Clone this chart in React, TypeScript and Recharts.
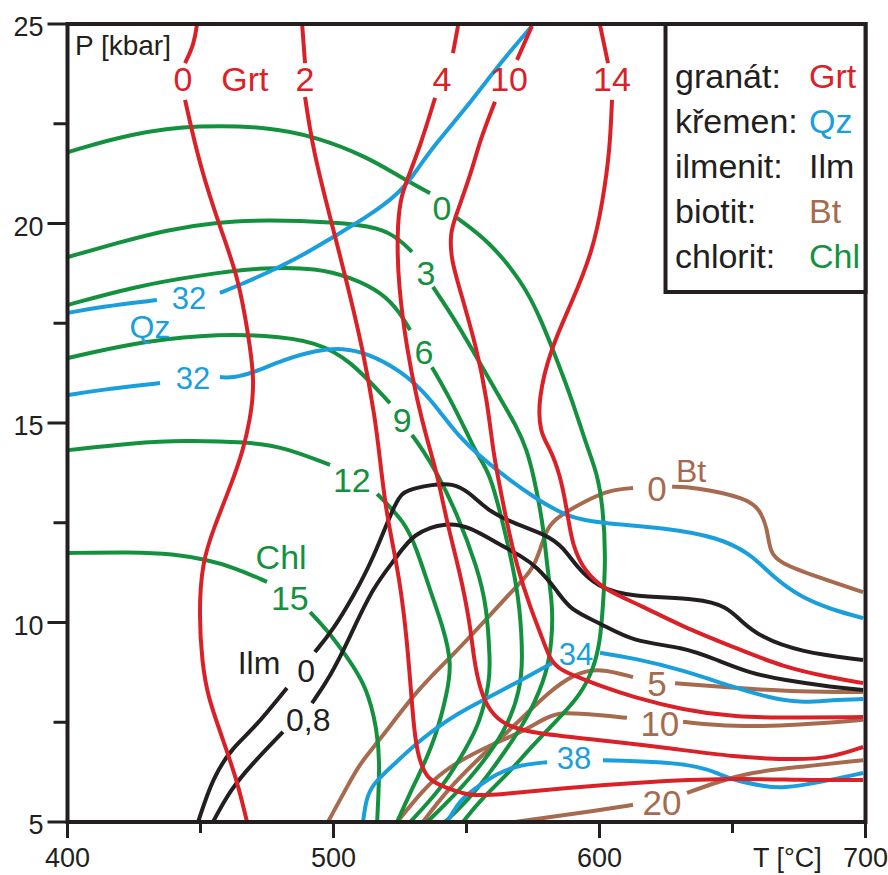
import React from 'react';
import { ComposedChart, Line, XAxis, YAxis, ReferenceDot } from 'recharts';

type Pt = [number, number] | null;
type Lab = [number, number, string];

const INK = '#231f20';
const RED = '#da2128';
const BLUE = '#1a9fdc';
const GREEN = '#14913f';
const BROWN = '#a66a4e';
const FONT = '"Liberation Sans", Arial, Helvetica, sans-serif';

const tempTicks = [400, 450, 500, 550, 600, 650, 700];
const pressTicks = [5, 7.5, 10, 12.5, 15, 17.5, 20, 22.5, 25];

// granát (Grt) – T [°C], P [kbar]; null = gap for the label
const grt0: Pt[] = [
  [448.7, 25], [447.6, 24.5], [444.2, 24.02], null,
  [444.2, 23.1], [449.8, 21.42], [458.1, 19.76], [464.1, 18.66], [467.9, 17.26], [470.5, 16.0],
  [468.6, 15.07], [466.0, 14.32], [462.2, 13.57], [454.7, 12.32], [450.6, 11.49], [449.4, 10.24],
  [450.6, 8.98], [452.8, 8.13], [458.1, 7.13], [463.7, 6.05], [467.5, 5.0],
];
const grt2: Pt[] = [
  [488.2, 25], [489.3, 24.02], null,
  [489.3, 23.17], [492.3, 21.84], [498.7, 20.16], [505.1, 18.51], [511.1, 16.83], [515.6, 15.15],
  [517.5, 14.07], [519.7, 12.82], [522.7, 11.82], [525.4, 10.81], [527.6, 9.56], [529.1, 8.31],
  [530.3, 7.31], [531.8, 6.63], [535.2, 6.05], [542.7, 5.85], [551.3, 5.65], [561.5, 5.68],
  [586.3, 5.85], [615.2, 6.0], [650.2, 6.1], [675.4, 6.05], [699.1, 6.05],
];
const grt4: Pt[] = [
  [546.8, 24.95], [544.9, 24.27], null,
  [538.2, 23.15], [532.5, 21.92], [527.6, 21.09], [525.0, 20.59], [523.9, 19.76], [524.3, 18.51],
  [527.6, 16.83], [531.4, 15.58], [535.2, 14.57], [538.9, 13.75], [542.7, 12.49], [547.6, 11.24],
  [551.3, 9.99], [552.8, 9.06], [555.1, 8.31], [558.8, 7.76], [564.5, 7.43], [573.9, 7.23],
  [599.1, 7.06], [625.4, 6.86], [650.2, 6.63], [675.4, 6.55], [687.8, 6.63], [699.1, 6.88],
];
const grt10: Pt[] = [
  [574.6, 24.95], [569.0, 24.1], null,
  [560.7, 23.05], [555.1, 22.09], [552.1, 21.34], [546.4, 20.26], [543.8, 19.79], [544.2, 19.09],
  [547.6, 18.33], [554.0, 16.83], [557.7, 15.58], [560.0, 14.32], [561.5, 13.75], [565.2, 12.49],
  [569.0, 11.39], [573.9, 10.39], [578.8, 9.56], [581.4, 9.06], [585.2, 8.81], [592.7, 8.61],
  [600.2, 8.41], [612.6, 8.13], [631.4, 7.81], [650.2, 7.63], [675.4, 7.61], [699.1, 7.63],
];
const grt14: Pt[] = [
  [600.2, 24.97], [603.2, 24.02], null,
  [604.7, 23.1], [603.9, 21.84], [601.3, 20.59], [597.6, 19.34], [590.0, 18.08], [581.4, 16.83],
  [576.9, 15.58], [577.6, 14.75], [581.4, 14.37], [585.2, 13.7], [587.8, 12.82], [589.7, 11.94],
  [594.5, 11.27], [602.1, 10.81], [615.2, 10.44], [631.4, 9.89], [650.2, 9.39], [669.0, 8.88],
  [687.8, 8.61], [699.1, 8.48],
];

// křemen (Qz)
const qz32a: Pt[] = [
  [400.2, 17.76], [412.2, 17.91], [433.6, 18.08], null,
  [457.3, 18.26], [464.8, 18.46], [475.0, 18.76], [487.4, 19.16], [499.8, 19.66], [512.6, 20.16],
  [525.0, 20.76], [531.4, 21.34], [537.4, 21.92], [550.2, 22.92], [562.6, 24.02], [574.6, 24.95],
];
const qz32b: Pt[] = [
  [400.2, 15.7], [412.2, 15.83], [434.8, 16.0], null,
  [457.3, 16.15], [462.2, 16.13], [469.7, 16.25], [481.0, 16.58], [493.8, 16.83], [503.6, 16.88],
  [512.6, 16.75], [525.0, 16.33], [536.3, 15.65], [547.6, 14.57], [562.6, 13.75], [575.0, 13.15],
  [587.8, 12.64], [600.2, 12.49], [625.4, 12.37], [644.2, 12.14], [656.6, 11.74], [665.2, 11.14],
  [675.4, 10.64], [687.8, 10.31], [699.1, 10.11],
];
const qz34: Pt[] = [
  [511.1, 5.0], [512.2, 5.55], [514.5, 5.93], [521.2, 6.35], [532.5, 7.06], [546.4, 7.73],
  [561.5, 8.23], [573.9, 8.68], [582.1, 8.98], null,
  [600.2, 9.24], [612.6, 9.11], [631.4, 8.81], [650.2, 8.38], [663.0, 8.13], [675.4, 7.98],
  [687.8, 8.06], [699.1, 8.08],
];
const qz38: Pt[] = [
  [542.7, 5.0], [547.6, 5.55], [552.4, 5.8], [561.5, 6.23], [570.1, 6.43], [580.3, 6.5], null,
  [601.3, 6.55], [625.4, 6.5], [637.8, 6.38], [644.2, 6.23], [650.2, 6.05], [663.0, 5.88],
  [669.0, 5.85], [681.8, 5.98], [699.1, 6.23],
];

// ilmenit (Ilm)
const ilm0: Pt[] = [
  [449.1, 5.0], [454.7, 6.13], [462.2, 6.88], [469.7, 7.31], [482.5, 8.36], null,
  [493.0, 9.26], [499.8, 9.81], [507.3, 10.64], [514.8, 11.57], [523.9, 13.15], [527.6, 13.32],
  [536.3, 13.45], [544.9, 13.5], [551.3, 13.25], [557.7, 12.82], [567.5, 12.49], [580.3, 12.19],
  [586.3, 11.89], [591.5, 11.39], [599.1, 10.89], [611.5, 10.64], [637.8, 10.61], [648.0, 10.39],
  [652.8, 10.06], [660.3, 9.64], [675.4, 9.26], [699.1, 9.06],
];
const ilm08: Pt[] = [
  [454.7, 5.0], [461.1, 5.8], [469.7, 6.48], [481.0, 7.26], null,
  [491.9, 7.98], [498.7, 8.63], [506.2, 9.64], [514.8, 10.89], [523.9, 11.64], [529.9, 12.24],
  [542.7, 12.52], [551.3, 12.39], [561.5, 11.99], [571.2, 11.64], [576.5, 11.39], [584.0, 10.81],
  [588.9, 10.31], [600.2, 9.99], [612.6, 9.51], [631.4, 9.39], [644.2, 9.06], [656.6, 8.73],
  [669.0, 8.56], [687.8, 8.38], [699.1, 8.31],
];

// biotit (Bt)
const bt0: Pt[] = [
  [497.9, 5.0], [505.1, 5.88], [510.0, 6.48], [517.5, 7.06], [531.4, 8.31], [543.8, 9.11],
  [556.2, 9.99], [566.4, 10.74], [575.0, 11.32], [577.6, 11.82], [580.3, 12.37], [584.0, 12.64],
  [595.3, 13.07], [603.9, 13.32], [612.6, 13.37], null,
  [627.3, 13.4], [635.2, 13.4], [655.5, 13.12], [660.3, 12.82], [663.0, 12.39], [664.1, 11.74],
  [667.9, 11.49], [681.8, 11.14], [699.1, 10.76],
];
const bt5: Pt[] = [
  [533.6, 5.0], [542.7, 5.8], [555.1, 6.63], [567.5, 7.38], [580.3, 8.23], [590.8, 8.73],
  [600.2, 8.86], [612.6, 8.63], null,
  [628.4, 8.48], [650.2, 8.36], [675.4, 8.26], [699.1, 8.26],
];
const bt10: Pt[] = [
  [523.9, 5.0], [533.6, 5.8], [542.7, 6.38], [561.5, 7.01], [570.1, 7.23], [580.3, 7.63],
  [585.2, 7.76], [600.2, 7.68], [610.3, 7.61], null,
  [631.4, 7.51], [650.2, 7.38], [675.4, 7.43], [699.1, 7.56],
];
const bt20: Pt[] = [
  [568.2, 5.0], [600.2, 5.3], [612.6, 5.43], null,
  [632.9, 5.73], [644.2, 6.0], [656.6, 6.25], [675.4, 6.38], [699.1, 6.55],
];

// chlorit (Chl)
const chl0: Pt[] = [
  [400.2, 21.79], [424.6, 22.27], [449.8, 22.47], [475.0, 22.42], [493.8, 22.17], [512.6, 21.67],
  [525.0, 21.17], [536.3, 20.76], null,
  [546.4, 20.14], [558.8, 19.54], [571.2, 18.51], [577.6, 17.66], [584.0, 16.58], [589.7, 15.58],
  [595.3, 14.4], [599.1, 13.75], [601.3, 12.89], [602.4, 11.64], [601.3, 10.39], [600.2, 9.49],
  [597.6, 8.81], [592.7, 8.18], [585.2, 7.63], [573.9, 6.85], [565.2, 6.18], [555.1, 5.55],
  [548.7, 5.0],
];
const chl3: Pt[] = [
  [400.2, 19.16], [418.6, 19.51], [437.4, 19.84], [456.2, 20.04], [475.0, 20.09], [499.8, 20.04],
  [517.5, 19.91], [525.0, 19.59], [529.5, 19.29], null,
  [537.4, 18.41], [546.4, 17.51], [555.1, 16.5], [561.5, 15.75], [569.0, 14.9], [572.7, 14.32],
  [575.0, 13.75], [578.8, 12.49], [580.3, 11.39], [582.5, 10.39], [582.1, 9.56], [580.3, 8.73],
  [573.9, 7.73], [567.5, 7.06], [558.8, 6.23], [550.6, 5.55], [541.9, 5.0],
];
const chl6: Pt[] = [
  [400.2, 17.96], [424.6, 18.41], [449.8, 18.71], [475.0, 18.91], [493.8, 18.88], [506.2, 18.66],
  [518.6, 18.26], [525.0, 17.76], [528.8, 17.33], null,
  [537.0, 16.4], [542.7, 15.75], [550.2, 14.75], [554.0, 14.2], [558.8, 13.75], [563.7, 12.49],
  [567.5, 11.39], [570.1, 10.39], [571.2, 9.06], [570.1, 8.31], [565.2, 7.31], [551.3, 6.05],
  [535.2, 5.0],
];
const chl9: Pt[] = [
  [400.2, 16.63], [424.6, 17.0], [449.8, 17.21], [475.0, 17.21], [493.8, 17.03], [506.2, 16.58],
  [521.2, 15.5], null,
  [529.5, 14.7], [533.6, 14.32], [538.9, 13.75], [546.4, 12.74], [554.0, 11.39], [557.7, 10.39],
  [558.8, 9.06], [558.8, 8.56], [555.1, 7.48], [549.4, 6.8], [542.7, 6.05], [535.5, 5.48],
  [528.8, 5.0],
];
const chl12: Pt[] = [
  [400.2, 14.32], [424.6, 14.5], [443.4, 14.57], [468.6, 14.52], [481.0, 14.4], [498.7, 13.95], null,
  [516.4, 13.22], [526.9, 12.52], [531.4, 11.82], [536.3, 10.81], [541.2, 9.89], [544.5, 8.98],
  [542.7, 8.23], [538.9, 7.23], [533.6, 6.38], [528.8, 5.73], [523.9, 5.0],
];
const chl15: Pt[] = [
  [400.2, 11.74], [424.6, 11.77], [439.7, 11.72], [452.4, 11.57], [462.2, 11.39], [475.0, 11.02], null,
  [491.2, 10.26], [497.6, 9.81], [505.1, 9.14], [512.6, 8.38], [516.4, 7.31], [517.5, 6.48],
  [516.4, 5.0],
];

// labels written on the isopleths: [T, P, text]
const grtLabels: Lab[] = [
  [443.4, 23.62, '0'], [466.7, 23.62, 'Grt'], [489.3, 23.62, '2'],
  [540.8, 23.62, '4'], [566.0, 23.62, '10'], [604.7, 23.62, '14'],
];
const qzLabels: Lab[] = [
  [445.7, 18.13, '32'], [431.0, 17.43, 'Qz'], [447.2, 16.13, '32'],
  [591.2, 9.21, '34'], [590.4, 6.6, '38'],
];
const ilmLabels: Lab[] = [[472.0, 9.01, 'Ilm'], [489.7, 8.81, '0'], [490.5, 7.56, '0,8']];
const btLabels: Lab[] = [
  [621.6, 13.37, '0'], [634.4, 13.82, 'Bt'], [621.6, 8.48, '5'],
  [622.7, 7.48, '10'], [623.5, 5.5, '20'],
];
const chlLabels: Lab[] = [
  [540.8, 20.39, '0'], [534.8, 18.76, '3'], [534.0, 16.78, '6'], [525.8, 15.08, '9'],
  [506.9, 13.57, '12'], [480.3, 11.64, 'Chl'], [483.6, 10.61, '15'],
];

const legendNames = ['granát:', 'křemen:', 'ilmenit:', 'biotit:', 'chlorit:'];
const legendAbbr = ['Grt', 'Qz', 'Ilm', 'Bt', 'Chl'];
const legendColors = [RED, BLUE, INK, BROWN, GREEN];

const toRows = (pts: Pt[]) =>
  pts.map((d, i) => (d ? { t: d[0], p: d[1] } : { t: (pts[i - 1] as [number, number])[0], p: null }));

const series = [
  { id: 'bt0', pts: bt0, color: BROWN },
  { id: 'bt5', pts: bt5, color: BROWN },
  { id: 'bt10', pts: bt10, color: BROWN },
  { id: 'bt20', pts: bt20, color: BROWN },
  { id: 'chl0', pts: chl0, color: GREEN },
  { id: 'chl3', pts: chl3, color: GREEN },
  { id: 'chl6', pts: chl6, color: GREEN },
  { id: 'chl9', pts: chl9, color: GREEN },
  { id: 'chl12', pts: chl12, color: GREEN },
  { id: 'chl15', pts: chl15, color: GREEN },
  { id: 'ilm0', pts: ilm0, color: INK },
  { id: 'ilm08', pts: ilm08, color: INK },
  { id: 'qz32a', pts: qz32a, color: BLUE },
  { id: 'qz32b', pts: qz32b, color: BLUE },
  { id: 'qz34', pts: qz34, color: BLUE },
  { id: 'qz38', pts: qz38, color: BLUE },
  { id: 'grt0', pts: grt0, color: RED },
  { id: 'grt2', pts: grt2, color: RED },
  { id: 'grt4', pts: grt4, color: RED },
  { id: 'grt10', pts: grt10, color: RED },
  { id: 'grt14', pts: grt14, color: RED },
];

const labelGroups = [
  { labs: grtLabels, color: RED, size: 34 },
  { labs: qzLabels, color: BLUE, size: 31 },
  { labs: ilmLabels, color: INK, size: 32 },
  { labs: btLabels, color: BROWN, size: 35 },
  { labs: chlLabels, color: GREEN, size: 34 },
];

const YTick = (props: any) => {
  const { x, y, payload } = props;
  const major = payload.value % 5 === 0;
  return (
    <g>
      <line x1={x - (major ? 20 : 14)} x2={x} y1={y} y2={y} stroke={INK} strokeWidth={3} />
      {major && (
        <text x={x - 24} y={y + 2.5} dy="0.36em" textAnchor="end" fontSize={27} fill={INK} fontFamily={FONT}>
          {payload.value}
        </text>
      )}
    </g>
  );
};

const XTick = (props: any) => {
  const { x, y, payload } = props;
  const major = payload.value % 100 === 0;
  return (
    <g>
      <line x1={x} x2={x} y1={y} y2={y + (major ? 16 : 11)} stroke={INK} strokeWidth={3} />
      {major && (
        <text x={x} y={y + 45} textAnchor="middle" fontSize={27} fill={INK} fontFamily={FONT}>
          {payload.value}
        </text>
      )}
    </g>
  );
};

const textShape = (text: string, color: string, size: number) => (p: any) => (
  <text x={p.cx} y={p.cy} dy="0.36em" textAnchor="middle" fontSize={size} fill={color} fontFamily={FONT}>
    {text}
  </text>
);

export default function App() {
  return (
    <div style={{ position: 'absolute', left: 0, top: 0, width: 888, height: 875, background: '#fff' }}>
      <ComposedChart width={888} height={875} margin={{ top: 24, right: 22.5, bottom: 13, left: 7.5 }}>
        <XAxis
          type="number"
          dataKey="t"
          domain={[400, 700]}
          ticks={tempTicks}
          allowDataOverflow
          axisLine={false}
          tickLine={false}
          tickSize={0}
          tickMargin={0}
          height={40}
          tick={<XTick />}
          interval={0}
        />
        <YAxis
          type="number"
          dataKey="p"
          domain={[5, 25]}
          ticks={pressTicks}
          allowDataOverflow
          axisLine={false}
          tickLine={false}
          tickSize={0}
          tickMargin={0}
          width={60}
          tick={<YTick />}
          interval={0}
        />
        {series.map((s) => (
          <Line
            key={s.id}
            name={s.id}
            data={toRows(s.pts)}
            dataKey="p"
            type="basis"
            stroke={s.color}
            strokeWidth={4}
            dot={false}
            activeDot={false}
            isAnimationActive={false}
            connectNulls={false}
          />
        ))}
        {labelGroups.map((g) =>
          g.labs.map((l, i) => (
            <ReferenceDot
              key={`${g.color}-${i}`}
              x={l[0]}
              y={l[1]}
              r={0}
              ifOverflow="visible"
              shape={textShape(l[2], g.color, l[2] === 'Qz' || l[2] === 'Bt' || l[2] === 'Ilm' ? 32 : g.size)}
            />
          ))
        )}
      </ComposedChart>
      <svg width={888} height={875} style={{ position: 'absolute', left: 0, top: 0, pointerEvents: 'none' }}>
        <rect x={67.5} y={24} width={798} height={798} fill="none" stroke={INK} strokeWidth={4} />
        <rect x={665.5} y={24} width={200} height={268} fill="#fff" stroke={INK} strokeWidth={4} />
        <text x={75} y={55} fontSize={28} fill={INK} fontFamily={FONT}>P [kbar]</text>
        <text x={753} y={867} fontSize={27} fill={INK} fontFamily={FONT}>T [°C]</text>
        {legendNames.map((n, i) => (
          <g key={n}>
            <text x={675} y={88 + i * 45} fontSize={34} fill={INK} fontFamily={FONT}>{n}</text>
            <text x={809} y={88 + i * 45} fontSize={34} fill={legendColors[i]} fontFamily={FONT}>{legendAbbr[i]}</text>
          </g>
        ))}
      </svg>
    </div>
  );
}
